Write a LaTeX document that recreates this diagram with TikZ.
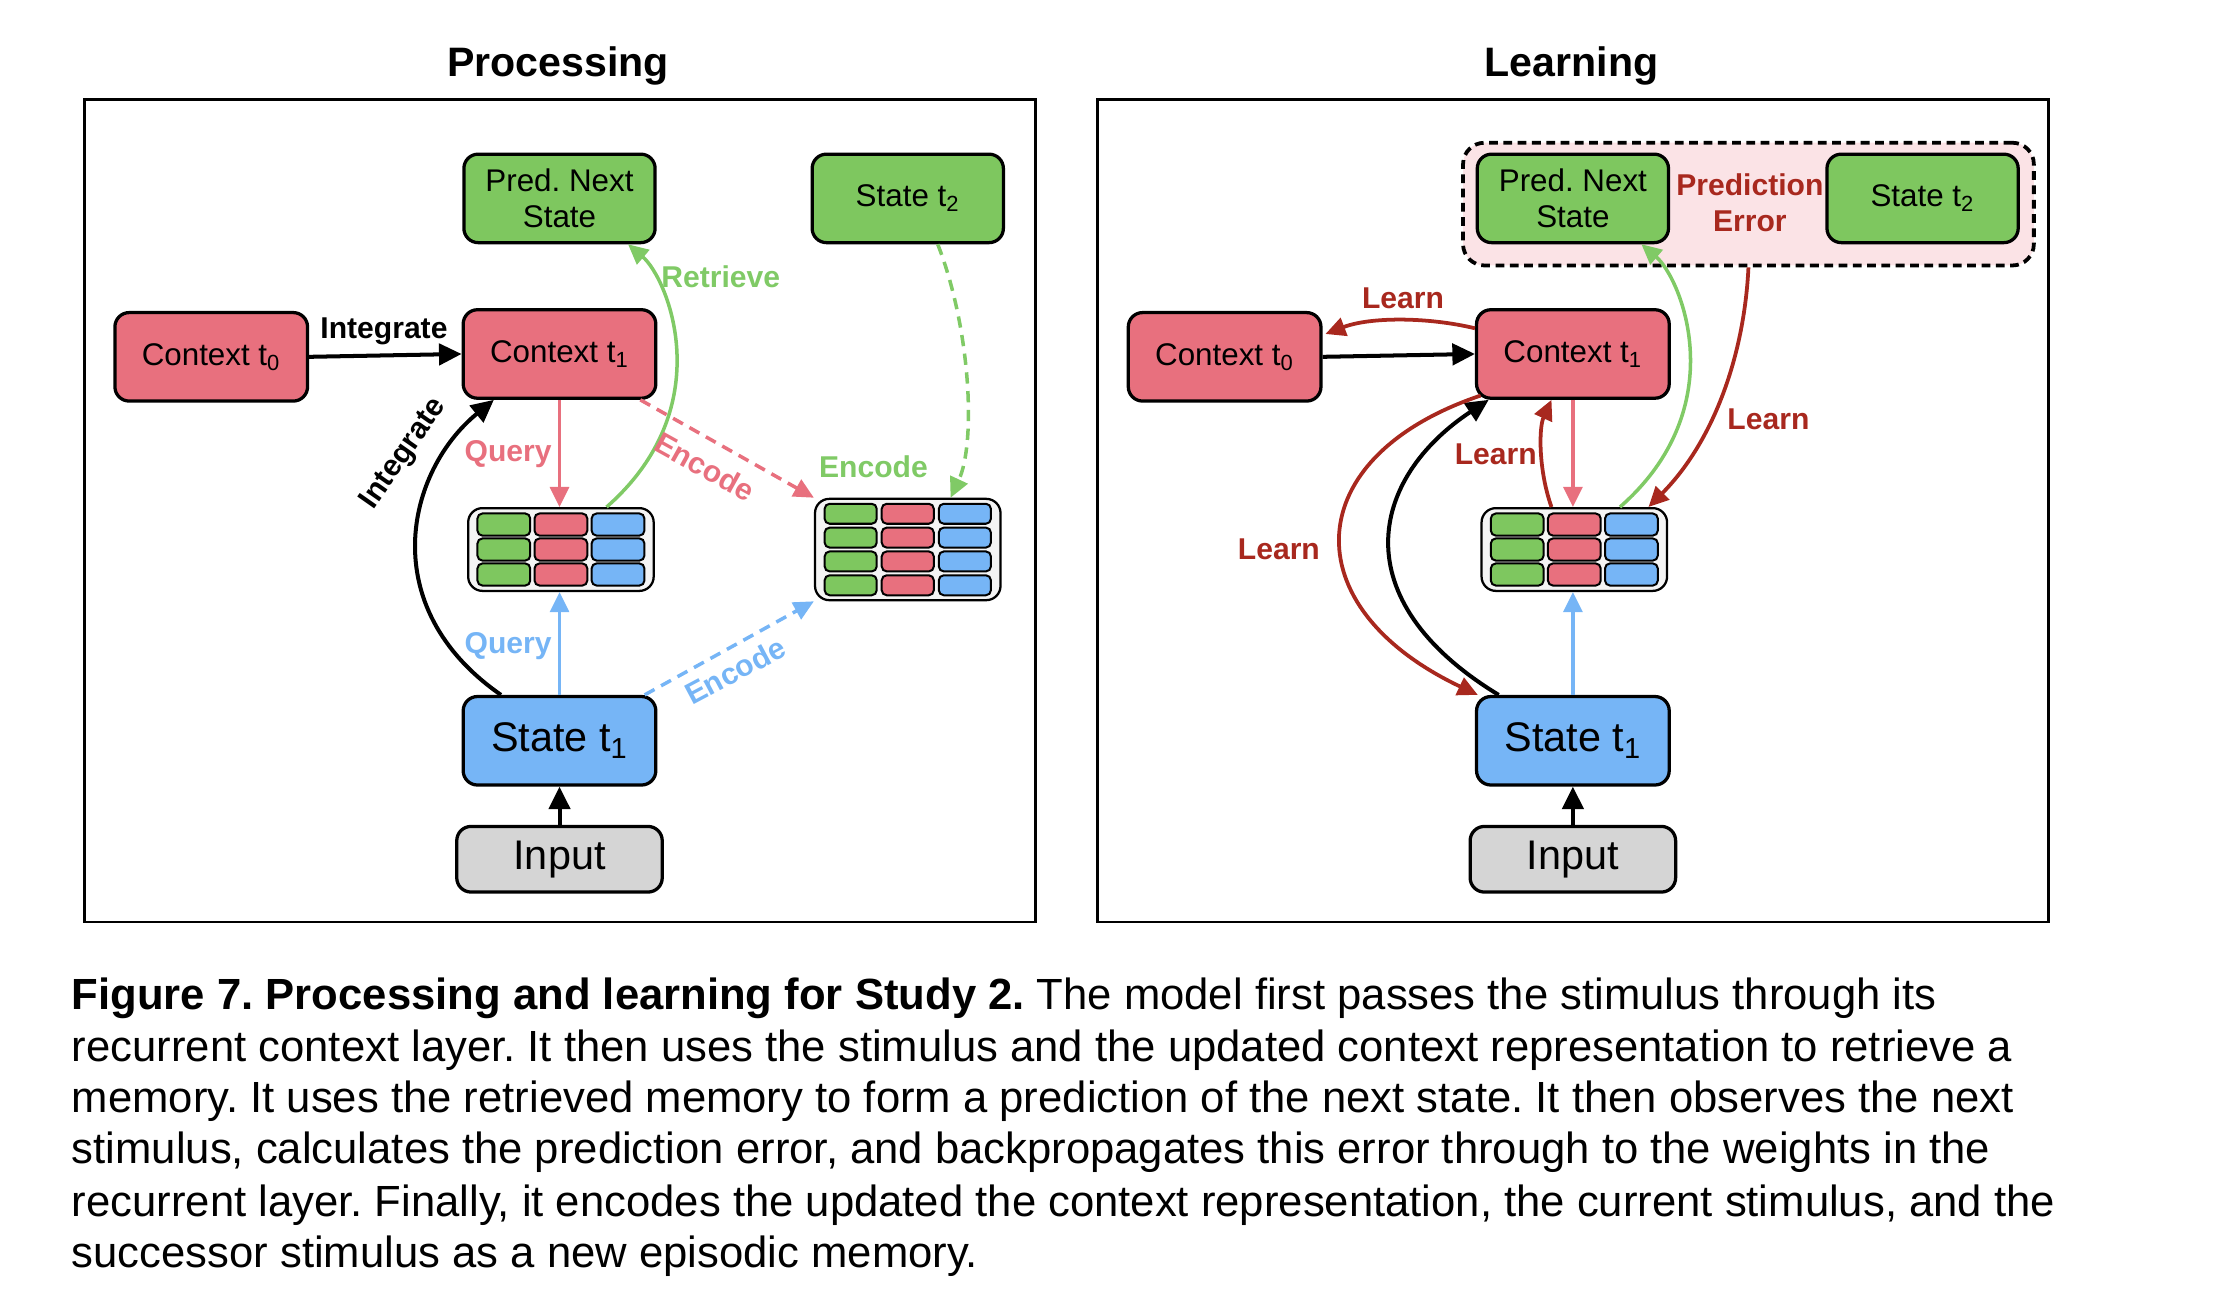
\documentclass[tikz,border=0pt]{standalone}
\usepackage{fontspec}
\setmainfont{Liberation Sans}
\usetikzlibrary{arrows.meta,calc}
\definecolor{gfill}{HTML}{7EC75F}
\definecolor{rfill}{HTML}{E8707E}
\definecolor{bfill}{HTML}{76B5F6}
\definecolor{grayfill}{HTML}{D5D5D5}
\definecolor{darkred}{HTML}{A8281E}
\definecolor{garrow}{HTML}{80CA66}
\definecolor{errfill}{HTML}{FBE3E6}
\definecolor{memfill}{HTML}{F4F4F4}
\frenchspacing
\begin{document}
\begin{tikzpicture}[x=0.02cm,y=-0.02cm,
  box/.style={draw=black, line width=1.3pt, rounded corners=0.2cm, minimum width=2.68cm, minimum height=1.24cm, inner sep=0pt, align=center, font=\fontsize{12.5}{14.5}\selectfont},
  bigtxt/.style={font=\fontsize{16.5}{18}\selectfont},
  mem/.style={draw=black, line width=0.9pt, fill=memfill, rounded corners=0.2cm, minimum width=2.6cm, minimum height=1.16cm, inner sep=0pt},
  cell/.style={draw=black, line width=0.8pt, rounded corners=0.07cm, minimum width=0.74cm, minimum height=0.31cm, inner sep=0pt},
  bcell/.style={cell, minimum width=0.73cm, minimum height=0.28cm},
  lbl/.style={font=\bfseries\fontsize{12}{14.2}\selectfont, inner sep=0pt, align=center},
  tip/.style={-{Triangle[length=8pt,width=7.5pt]}},
  btip/.style={-{Triangle[length=9pt,width=8.5pt]}},
  blk/.style={btip, draw=black, line width=1.6pt},
  pk/.style={tip, draw=rfill, line width=1.4pt},
  bl/.style={tip, draw=bfill, line width=1.4pt},
  gr/.style={tip, draw=garrow, line width=1.4pt},
  dr/.style={tip, draw=darkred, line width=1.5pt},
  dsh/.style={dash pattern=on 4.5pt off 3pt},
  frame/.style={draw=black, line width=1.1pt, minimum width=13.33cm, minimum height=11.53cm, inner sep=0pt},
  ttl/.style={font=\bfseries\fontsize{16.4}{19}\selectfont, inner sep=0pt},
  captxt/.style={anchor=base west, inner sep=0pt, font=\fontsize{17.4}{20}\selectfont}
]
\useasboundingbox (0,0) rectangle (1568,916);

% titles and frames
\node[ttl] (tP) at (391,46) {Processing};
\node[ttl] (tL) at (1101,46) {Learning};
\node[frame] (fL) at (392.25,357.75) {};
\node[frame] (fR) at (1102.25,357.75) {};

% ===== Processing panel =====
\node[box, fill=gfill] (pnL) at (392,139) {Pred. Next\\State};
\node[box, fill=gfill] (s2L) at (636,139) {State t\textsubscript{2}};
\node[box, fill=rfill, minimum width=2.7cm] (c0L) at (148,250) {Context t\textsubscript{0}};
\node[box, fill=rfill, minimum width=2.7cm] (c1L) at (392,248) {Context t\textsubscript{1}};
\node[mem] (m1L) at (393,385) {};
\node[mem, minimum height=1.42cm] (m2L) at (636,385) {};
\node[box, bigtxt, fill=bfill, minimum width=2.7cm] (s1L) at (392,519) {State t\textsubscript{1}};
\node[box, bigtxt, fill=grayfill, minimum width=2.88cm, minimum height=0.92cm] (inL) at (392,602) {Input};

\foreach \r/\dy in {1/-17.5,2/0,3/17.5}{
  \node[cell, fill=gfill] (m1Lg\r) at ($(m1L)+(-40,\dy)$) {};
  \node[cell, fill=rfill] (m1Lr\r) at ($(m1L)+(0,\dy)$) {};
  \node[cell, fill=bfill] (m1Lb\r) at ($(m1L)+(40,\dy)$) {};
}
\foreach \r/\dy in {1/-25.05,2/-8.35,3/8.35,4/25.05}{
  \node[bcell, fill=gfill] (m2Lg\r) at ($(m2L)+(-40,\dy)$) {};
  \node[bcell, fill=rfill] (m2Lr\r) at ($(m2L)+(0,\dy)$) {};
  \node[bcell, fill=bfill] (m2Lb\r) at ($(m2L)+(40,\dy)$) {};
}

\draw[blk] (c0L.east) -- (c1L.west);
\node[lbl] (lIntA) at (269,232) {Integrate};
\draw[blk] ($(s1L.north)+(-41,0)$) .. controls (262,425) and (285,330) .. ($(c1L.south)+(-46,0)$);
\node[lbl, rotate=55] (lIntB) at (283,318) {Integrate};
\draw[pk] (c1L.south) -- (c1L.south |- m1L.north);
\node[lbl, text=rfill] (lQA) at (356,318) {Query};
\draw[bl] (s1L.north) -- (s1L.north |- m1L.south);
\node[lbl, text=bfill] (lQB) at (356,453) {Query};
\draw[gr] ($(m1L.north)+(32,0)$) .. controls (505,285) and (468,195) .. ($(pnL.south)+(48,0)$);
\node[lbl, text=garrow] (lRet) at (505,194) {Retrieve};
\draw[pk, dsh] ($(c1L.south east)+(-12,0)$) -- (m2L.north west);
\node[lbl, text=rfill, rotate=-29] (lEncA) at (494,327) {Encode};
\draw[bl, dsh] ($(s1L.north east)+(-9,0)$) -- (m2L.south west);
\node[lbl, text=bfill, rotate=28] (lEncB) at (515,470) {Encode};
\draw[gr, dsh] ($(s2L.south)+(21,0)$) .. controls (680,230) and (684,310) .. ($(m2L.north)+(30,0)$);
\node[lbl, text=garrow] (lEncC) at (612,327) {Encode};
\draw[blk] (inL.north) -- (s1L.south);

% ===== Learning panel =====
\node[draw=black, line width=1.5pt, dash pattern=on 3.5pt off 2.2pt, fill=errfill, rounded corners=0.3cm, minimum width=8.0cm, minimum height=1.72cm, inner sep=0pt] (err) at (1225,143) {};
\node[box, fill=gfill] (pnR) at (1102,139) {Pred. Next\\State};
\node[box, fill=gfill] (s2R) at (1347,139) {State t\textsubscript{2}};
\node[lbl, text=darkred] (lPE) at (1226,142) {Prediction\\Error};
\node[box, fill=rfill, minimum width=2.7cm] (c0R) at (858,250) {Context t\textsubscript{0}};
\node[box, fill=rfill, minimum width=2.7cm] (c1R) at (1102,248) {Context t\textsubscript{1}};
\node[mem] (m1R) at (1103,385) {};
\node[box, bigtxt, fill=bfill, minimum width=2.7cm] (s1R) at (1102,519) {State t\textsubscript{1}};
\node[box, bigtxt, fill=grayfill, minimum width=2.88cm, minimum height=0.92cm] (inR) at (1102,602) {Input};

\foreach \r/\dy in {1/-17.5,2/0,3/17.5}{
  \node[cell, fill=gfill] (m1Rg\r) at ($(m1R)+(-40,\dy)$) {};
  \node[cell, fill=rfill] (m1Rr\r) at ($(m1R)+(0,\dy)$) {};
  \node[cell, fill=bfill] (m1Rb\r) at ($(m1R)+(40,\dy)$) {};
}

\draw[blk] (c0R.east) -- (c1R.west);
\draw[dr] ($(c1R.west)+(0,-18)$) .. controls (1000,222) and (960,222) .. ($(c0R.east)+(2,-16)$);
\node[lbl, text=darkred] (lL1) at (983,209) {Learn};
\draw[blk] ($(s1R.north)+(-52,0)$) .. controls (940,420) and (960,335) .. ($(c1R.south)+(-59,0)$);
\draw[dr] ($(c1R.south west)+(4,-3)$) .. controls (910,320) and (905,425) .. ($(s1R.north west)+(2,0)$);
\node[lbl, text=darkred] (lL2) at (896,385) {Learn};
\draw[dr] ($(m1R.north)+(-16,0)$) .. controls (1078,330) and (1078,300) .. ($(c1R.south)+(-15,0)$);
\node[lbl, text=darkred] (lL3) at (1048,318) {Learn};
\draw[pk] (c1R.south) -- (c1R.south |- m1R.north);
\draw[gr] ($(m1R.north)+(32,0)$) .. controls (1215,285) and (1178,195) .. ($(pnR.south)+(48,0)$);
\draw[dr] (err.south) .. controls (1222,250) and (1200,310) .. ($(m1R.north)+(52,0)$);
\node[lbl, text=darkred] (lL4) at (1239,294) {Learn};
\draw[bl] (s1R.north) -- (s1R.north |- m1R.south);
\draw[blk] (inR.north) -- (s1R.south);

% ===== caption =====
\node[captxt] (cap1) at (50,707) {\textbf{Figure 7. Processing and learning for Study 2.} The model first passes the stimulus through its};
\node[captxt] (cap2) at (50,743.5) {recurrent context layer. It then uses the stimulus and the updated context representation to retrieve a};
\node[captxt] (cap3) at (50,779.5) {memory. It uses the retrieved memory to form a prediction of the next state. It then observes the next};
\node[captxt] (cap4) at (50,815.5) {stimulus, calculates the prediction error, and backpropagates this error through to the weights in the};
\node[captxt] (cap5) at (50,852) {recurrent layer. Finally, it encodes the updated the context representation, the current stimulus, and the};
\node[captxt] (cap6) at (50,888) {successor stimulus as a new episodic memory.};
\end{tikzpicture}
\end{document}
